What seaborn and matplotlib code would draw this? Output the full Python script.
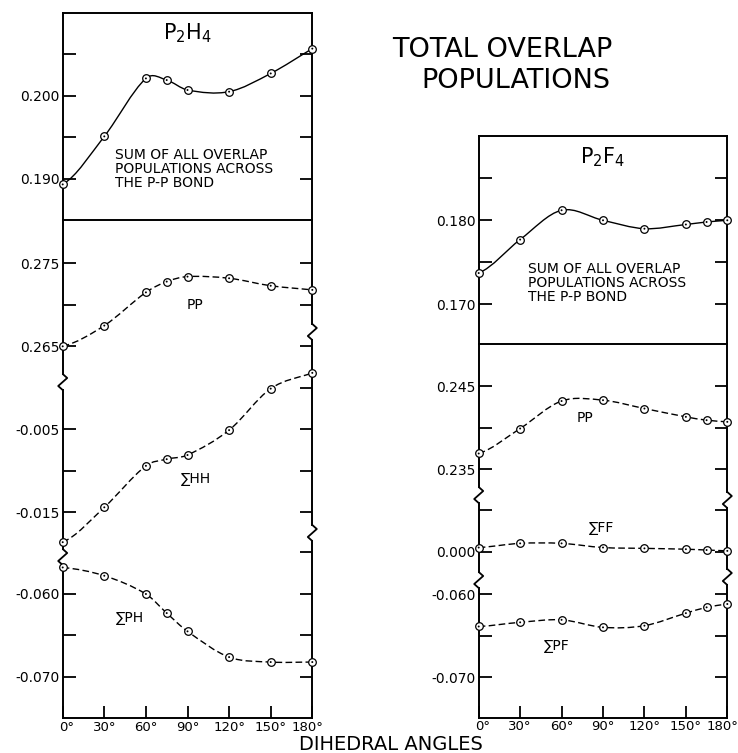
import numpy as np
import matplotlib.pyplot as plt
import matplotlib.transforms as mtransforms
import seaborn as sns
from matplotlib.path import Path
from matplotlib.patches import PathPatch

# dihedral angles (deg)
h_ang = [0, 30, 60, 75, 90, 120, 150, 180]
f_ang = [0, 30, 60, 90, 120, 150, 165, 180]

# P2H4 overlap populations
h_total = [0.1893, 0.1951, 0.2021, 0.2019, 0.2007, 0.2005, 0.2027, 0.2057]
h_pp = [0.2650, 0.2675, 0.2715, 0.2728, 0.2734, 0.2732, 0.2723, 0.2718]
h_hh = [-0.0186, -0.0144, -0.0094, -0.0086, -0.0081, -0.0051, -0.0001, 0.0018]
h_ph = [-0.0568, -0.0578, -0.0600, -0.0623, -0.0645, -0.0676, -0.0682, -0.0682]

# P2F4 overlap populations
f_total = [0.1737, 0.1777, 0.1812, 0.1800, 0.1790, 0.1795, 0.1798, 0.1800]
f_pp = [0.2369, 0.2399, 0.2432, 0.2433, 0.2423, 0.2413, 0.2409, 0.2407]
f_ff = [0.0005, 0.0010, 0.0010, 0.0005, 0.0004, 0.0003, 0.0002, 0.0001]
f_pf = [-0.0639, -0.0634, -0.0631, -0.0640, -0.0638, -0.0623, -0.0616, -0.0612]

deg_ticks = [0, 30, 60, 90, 120, 150, 180]
deg_labels = [f"{d}\u00b0" for d in deg_ticks]

sns.set_theme(style="ticks", context="paper")
plt.rcParams["font.family"] = "DejaVu Sans"
plt.rcParams["mathtext.fontset"] = "dejavusans"
for k in ("text.color", "axes.labelcolor", "xtick.color", "ytick.color"):
    plt.rcParams[k] = "black"

W, H = 738, 753
fig = plt.figure(figsize=(W / 100, H / 100), dpi=100)


def box(x0, x1, y0, y1):
    # pixel box (top-left origin) -> figure fraction rect
    return [x0 / W, 1 - y1 / H, (x1 - x0) / W, (y1 - y0) / H]


def setup(ax, ylim, ticks, labels, left=(0, 1), right=(0, 1),
          top_sp=False, bottom_sp=False, xaxis=False, hide_left=()):
    ax.set_xlim(0, 180)
    ax.set_ylim(*ylim)
    ax.patch.set_alpha(0)
    ax.set_yticks(ticks, labels)
    ax.tick_params(axis="y", direction="in", length=9, width=1.3, left=True,
                   right=True, labelleft=True, labelright=False, pad=2,
                   labelsize=10)
    lo, hi = ylim
    for side, (a, b) in (("left", left), ("right", right)):
        ax.spines[side].set_bounds(lo + a * (hi - lo), lo + b * (hi - lo))
    for s in ax.spines.values():
        s.set_linewidth(1.4)
        s.set_color("black")
    ax.spines["top"].set_visible(top_sp)
    ax.spines["bottom"].set_visible(bottom_sp or xaxis)
    if xaxis:
        ax.set_xticks(deg_ticks, deg_labels)
        ax.tick_params(axis="x", direction="in", length=9, width=1.3,
                       pad=2, labelsize=9.5)
        labs = ax.get_xticklabels()
        for lab, dx in ((labs[0], 4), (labs[-1], -5)):
            off = mtransforms.ScaledTranslation(dx / 100, 0, fig.dpi_scale_trans)
            lab.set_transform(lab.get_transform() + off)
    else:
        ax.set_xticks([])
    for t, v in zip(ax.yaxis.get_major_ticks(), ticks):
        if v in hide_left:
            t.tick1line.set_visible(False)
    ax.grid(False)


def curve(ax, x, y, dashed):
    x = np.asarray(x, float)
    y = np.asarray(y, float)
    n = len(x)
    m = np.empty(n)
    m[1:-1] = (y[2:] - y[:-2]) / (x[2:] - x[:-2])
    m[0] = 0.5 * (y[1] - y[0]) / (x[1] - x[0])
    m[-1] = (y[-1] - y[-2]) / (x[-1] - x[-2])
    verts = [(x[0], y[0])]
    codes = [Path.MOVETO]
    for i in range(n - 1):
        h = x[i + 1] - x[i]
        verts += [(x[i] + h / 3, y[i] + m[i] * h / 3),
                  (x[i + 1] - h / 3, y[i + 1] - m[i + 1] * h / 3),
                  (x[i + 1], y[i + 1])]
        codes += [Path.CURVE4] * 3
    ls = (0, (4.8, 2.4)) if dashed else "-"
    ax.add_patch(PathPatch(Path(verts, codes), fill=False, edgecolor="black",
                           lw=1.0, linestyle=ls, zorder=2))
    sns.scatterplot(x=x, y=y, ax=ax, s=30, marker="o", color="white",
                    edgecolor="black", linewidth=0.9, zorder=4, clip_on=False,
                    legend=False)
    sns.scatterplot(x=x, y=y, ax=ax, s=2, marker="o", color="black",
                    edgecolor="none", linewidth=0, zorder=5, clip_on=False,
                    legend=False)


def zigzag(ax, xf, yf, w_px, h_px):
    dx, dy = 4.5 / w_px, 8 / h_px
    ax.plot([xf, xf + dx, xf - dx, xf], [yf + dy, yf + dy / 2, yf - dy / 2, yf - dy],
            transform=ax.transAxes, color="black", lw=1.3, clip_on=False,
            solid_capstyle="butt")


sum_text = "SUM OF ALL OVERLAP\nPOPULATIONS ACROSS\nTHE P-P BOND"

# ---------------- P2H4 ----------------
lx0, lx1 = 62.7, 312.3
ax = fig.add_axes(box(lx0, lx1, 13, 220))
setup(ax, (0.185, 0.210), [0.190, 0.195, 0.200, 0.205],
      ["0.190", "", "0.200", ""], top_sp=True, bottom_sp=True)
curve(ax, h_ang, h_total, dashed=False)
ax.text(0.5, 0.902, r"$\mathrm{P_2H_4}$", transform=ax.transAxes,
        ha="center", va="center", fontsize=15)
ax.text(37.7, 0.1937, sum_text, ha="left", va="top", fontsize=10, linespacing=1.0)

lw_px, lh_px = lx1 - lx0, 718 - 220
g = 8 / lh_px
bl = (0.6747, 0.3233)   # breaks on left spine (axes fraction)
br = (0.7751, 0.3715)   # breaks on right spine

ax_pp = fig.add_axes(box(lx0, lx1, 220, 718))
setup(ax_pp, (0.22022, 0.28022), [0.265, 0.270, 0.275], ["0.265", "", "0.275"],
      left=(bl[0] + g, 1), right=(br[0] + g, 1))
curve(ax_pp, h_ang, h_pp, dashed=True)
ax_pp.text(95.6, 0.2700, "PP", ha="center", va="center", fontsize=10)

ax_hh = fig.add_axes(box(lx0, lx1, 220, 718))
setup(ax_hh, (-0.039783, 0.020217), [-0.015, -0.010, -0.005, 0.000],
      ["-0.015", "", "-0.005", ""], left=(bl[1] + g, bl[0] - g),
      right=(br[1] + g, br[0] - g), hide_left=(0.000,))
curve(ax_hh, h_ang, h_hh, dashed=True)
ax_hh.text(96, -0.0110, "\u2211HH", ha="center", va="center", fontsize=10)

ax_ph = fig.add_axes(box(lx0, lx1, 220, 718))
setup(ax_ph, (-0.07494, -0.01494), [-0.070, -0.065, -0.060, -0.055],
      ["-0.070", "", "-0.060", ""], left=(0, bl[1] - g), right=(0, br[1] - g),
      xaxis=True, hide_left=(-0.055,))
curve(ax_ph, h_ang, h_ph, dashed=True)
ax_ph.text(48.5, -0.0629, "\u2211PH", ha="center", va="center", fontsize=10)

for b in bl:
    zigzag(ax_ph, 0, b, lw_px, lh_px)
for b in br:
    zigzag(ax_ph, 1, b, lw_px, lh_px)

# ---------------- P2F4 ----------------
rx0, rx1 = 478.7, 727.3
ax = fig.add_axes(box(rx0, rx1, 136, 344.3))
setup(ax, (0.16519, 0.19007), [0.170, 0.175, 0.180, 0.185],
      ["0.170", "", "0.180", ""], top_sp=True, bottom_sp=True)
curve(ax, f_ang, f_total, dashed=False)
ax.text(0.5, 0.9006, r"$\mathrm{P_2F_4}$", transform=ax.transAxes,
        ha="center", va="center", fontsize=15)
ax.text(35.9, 0.1750, sum_text, ha="left", va="top", fontsize=10, linespacing=1.0)

rw_px, rh_px = rx1 - rx0, 717.7 - 344.3
g = 8 / rh_px
bl = (0.5964, 0.3688)
br = (0.5830, 0.3768)

ax_fpp = fig.add_axes(box(rx0, rx1, 344.3, 717.7))
setup(ax_fpp, (0.20518, 0.25001), [0.235, 0.240, 0.245], ["0.235", "", "0.245"],
      left=(bl[0] + g, 1), right=(br[0] + g, 1))
curve(ax_fpp, f_ang, f_pp, dashed=True)
ax_fpp.text(77.2, 0.2412, "PP", ha="center", va="center", fontsize=10)

ax_ff = fig.add_axes(box(rx0, rx1, 344.3, 717.7))
setup(ax_ff, (-0.01993, 0.0249), [0.000, 0.005], ["0.000", ""],
      left=(bl[1] + g, bl[0] - g), right=(br[1] + g, br[0] - g))
curve(ax_ff, f_ang, f_ff, dashed=True)
ax_ff.text(88.6, 0.0029, "\u2211FF", ha="center", va="center", fontsize=10)

ax_pf = fig.add_axes(box(rx0, rx1, 344.3, 717.7))
setup(ax_pf, (-0.07485, -0.03002), [-0.070, -0.065, -0.060],
      ["-0.070", "", "-0.060"], left=(0, bl[1] - g), right=(0, br[1] - g),
      xaxis=True)
curve(ax_pf, f_ang, f_pf, dashed=True)
ax_pf.text(56.5, -0.0663, "\u2211PF", ha="center", va="center", fontsize=10)

for b in bl:
    zigzag(ax_pf, 0, b, rw_px, rh_px)
for b in br:
    zigzag(ax_pf, 1, b, rw_px, rh_px)

# ---------------- titles ----------------
fig.text(502.4 / W, 1 - 50 / H, "TOTAL OVERLAP", ha="center", va="center", fontsize=19.5)
fig.text(515.8 / W, 1 - 81 / H, "POPULATIONS", ha="center", va="center", fontsize=19.5)
fig.text(390.7 / W, 1 - 745 / H, "DIHEDRAL ANGLES", ha="center", va="center", fontsize=14)

fig.savefig("out.png", dpi=100)
